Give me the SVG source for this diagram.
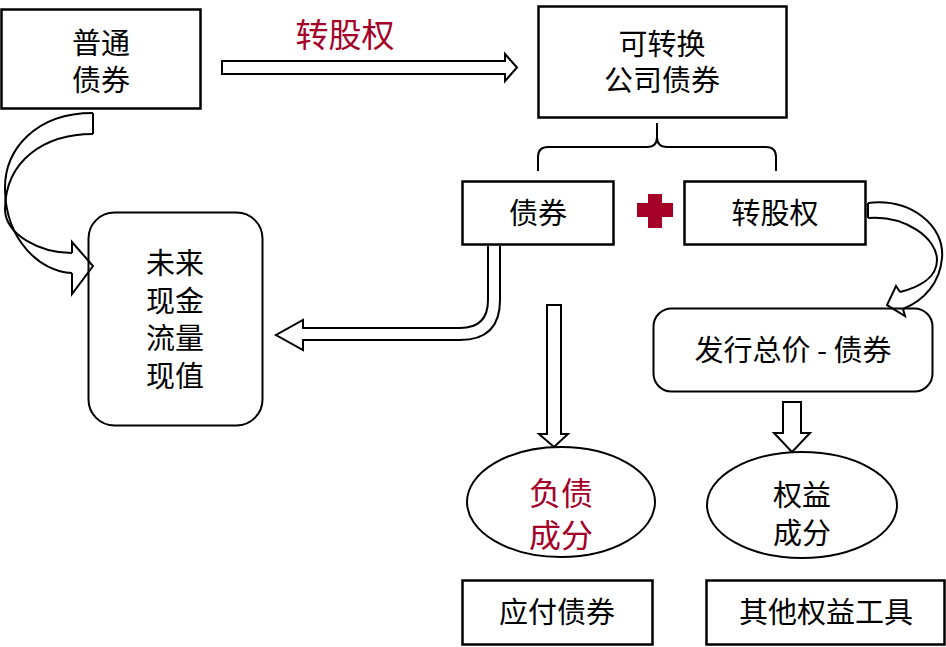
<svg xmlns="http://www.w3.org/2000/svg" width="946" height="647" viewBox="0 0 946 647">
<style>
.box{fill:none;stroke:#000;stroke-width:2.5}
.shape{fill:none;stroke:#000;stroke-width:2}
.arrow{fill:#fff;stroke:#000;stroke-width:2;stroke-linejoin:miter}
.arrowline{fill:none;stroke:#000;stroke-width:2}
text{font-family:"Noto Sans CJK SC","Liberation Sans",sans-serif;font-size:29px;fill:#000;text-anchor:middle;dominant-baseline:central}
.red{fill:#A50028}
</style>
<rect width="946" height="647" fill="#fff"/>
<g id="connectors">
  <path class="arrow" d="M222,61 L505,61 L505,54 L517,67.5 L505,81 L505,74 L222,74 Z"/>
  <text class="red" x="345" y="33" style="font-size:33px">转股权</text>
  <path class="arrowline" d="M93,113 L93,134"/>
  <path class="arrowline" d="M93,113 C35,113 4,150 5,190 C6,240 40,272 72,273"/>
  <path class="arrowline" d="M93,134 C45,134 5,160 5,210 C6,235 40,253 72,253"/>
  <path class="arrowline" d="M72,253 L72,242 L93,266 L72,294 L72,273"/>
  <path class="shape" d="M538,171 L538,157 Q538,147 548,147 L647,147 Q657,147 657,137 L657,123 M657,137 Q657,147 667,147 L766,147 Q776,147 776,157 L776,171"/>
  <path fill="#A50028" d="M648,194 L662,194 L662,203 L673,203 L673,217 L662,217 L662,228 L648,228 L648,217 L637,217 L637,203 L648,203 Z"/>
  <path class="arrowline" d="M868,203 L868,218"/>
  <path class="arrowline" d="M868,203 C910,198 945,225 942,258 C940,282 925,300 903,309"/>
  <path class="arrowline" d="M868,218 C905,215 937,238 937,260 C937,277 920,287 900,292"/>
  <path class="arrowline" d="M900,292 L896,286 L887,305 L905,316 L903,309"/>
  <path class="arrow" d="M488,246 L488,300 Q488,328 460,328 L303,328 L303,320 L276,335 L303,350 L303,340 L460,340 Q500,340 500,300 L500,246"/>
  <path class="arrow" d="M547,305 L561,305 L561,434 L568,434 L554,447 L539,434 L547,434 Z"/>
  <path class="arrow" d="M783,402 L801,402 L801,433 L810,433 L792,452 L774,433 L783,433 Z"/>
</g>
<g id="node-putong">
  <rect class="box" x="1.5" y="9.5" width="199" height="99"/>
  <text x="101" y="41">普通<tspan x="101" dy="37">债券</tspan></text>
</g>
<g id="node-kezhuanhuan">
  <rect class="box" x="538.5" y="6.5" width="248" height="111"/>
  <text x="662" y="42">可转换<tspan x="662" dy="36">公司债券</tspan></text>
</g>
<g id="node-zhaiquan">
  <rect class="box" x="462.5" y="181.5" width="151" height="63"/>
  <text x="538" y="211">债券</text>
</g>
<g id="node-zhuanguquan">
  <rect class="box" x="684.5" y="181.5" width="181" height="63"/>
  <text x="775" y="211">转股权</text>
</g>
<g id="node-xianzhi">
  <rect class="shape" x="88.5" y="212.5" width="174" height="213" rx="26"/>
  <text x="175" y="261">未来<tspan x="175" dy="37.5">现金</tspan><tspan x="175" dy="37.5">流量</tspan><tspan x="175" dy="37.5">现值</tspan></text>
</g>
<g id="node-faxing">
  <rect class="shape" x="653.5" y="308.5" width="279" height="83" rx="18"/>
  <text x="793" y="348">发行总价 - 债券</text>
</g>
<g id="node-fuzhai">
  <ellipse class="shape" cx="561" cy="502" rx="94" ry="55"/>
  <text class="red" x="561" y="491" style="font-size:32px">负债<tspan x="561" dy="42">成分</tspan></text>
</g>
<g id="node-quanyi">
  <ellipse class="shape" cx="802" cy="505" rx="95" ry="53"/>
  <text x="802" y="493">权益<tspan x="802" dy="38">成分</tspan></text>
</g>
<g id="node-yingfu">
  <rect class="box" x="462.5" y="580.5" width="190" height="64"/>
  <text x="557" y="610">应付债券</text>
</g>
<g id="node-qita">
  <rect class="box" x="706.5" y="580.5" width="238" height="64"/>
  <text x="826" y="610">其他权益工具</text>
</g>
</svg>
